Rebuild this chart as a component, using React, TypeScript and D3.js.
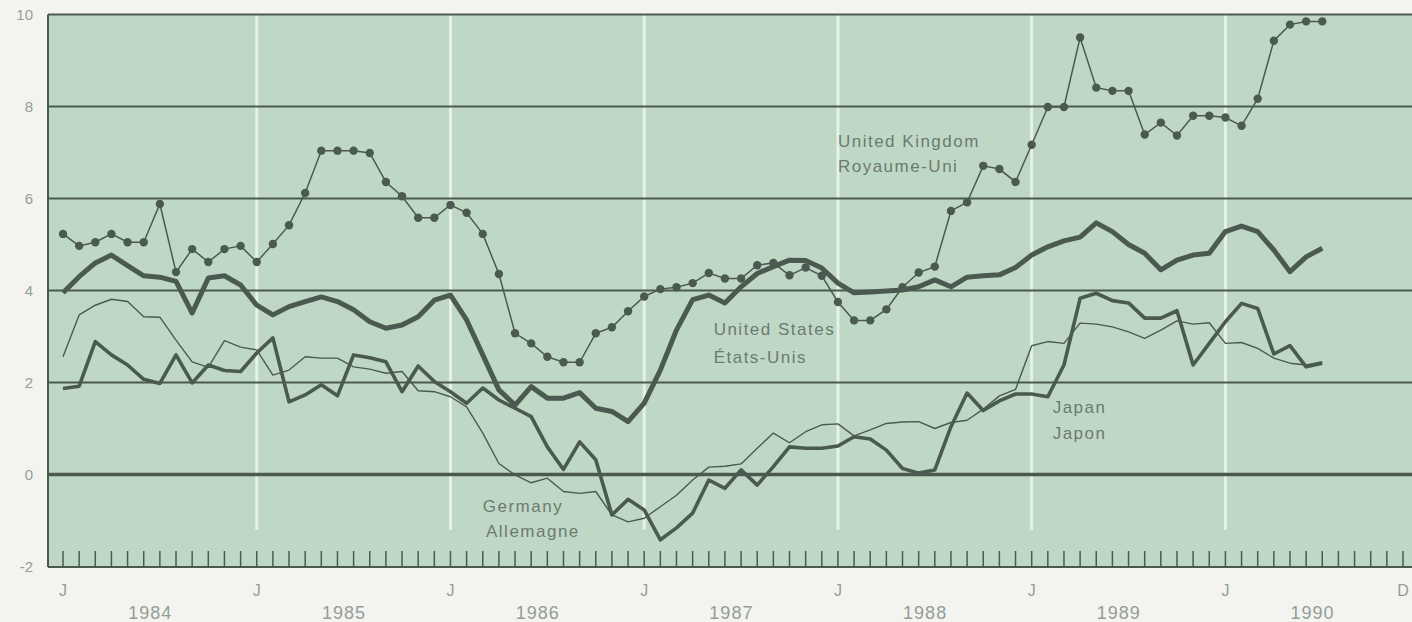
import { useEffect, useRef } from 'react';
import * as d3 from 'd3';

// Monthly values, January 1984 .. July 1990
const ukValues = [
  5.23, 4.97, 5.05, 5.23, 5.05, 5.05, 5.88, 4.4, 4.9, 4.62, 4.9, 4.97,
  4.62, 5.01, 5.42, 6.12, 7.04, 7.04, 7.04, 6.99, 6.36, 6.05, 5.58, 5.58,
  5.86, 5.69, 5.23, 4.36, 3.07, 2.85, 2.56, 2.44, 2.44, 3.07, 3.2, 3.55,
  3.87, 4.03, 4.07, 4.16, 4.38, 4.26, 4.26, 4.55, 4.6, 4.33, 4.5, 4.32,
  3.75, 3.35, 3.35, 3.59, 4.07, 4.39, 4.52, 5.73, 5.92, 6.71, 6.64, 6.36,
  7.17, 7.99, 7.99, 9.5, 8.41, 8.34, 8.34, 7.39, 7.65, 7.37, 7.8, 7.8,
  7.76, 7.58, 8.17, 9.43, 9.78, 9.85, 9.85,
];

const usValues = [
  3.95, 4.3, 4.6, 4.77, 4.54, 4.32, 4.29, 4.2, 3.51, 4.27, 4.32, 4.12,
  3.68, 3.47, 3.65, 3.76, 3.86, 3.76, 3.58, 3.32, 3.18, 3.25, 3.43, 3.79,
  3.9, 3.36, 2.6, 1.84, 1.51, 1.91, 1.66, 1.66, 1.78, 1.44, 1.37, 1.15,
  1.55, 2.27, 3.14, 3.8, 3.9, 3.73, 4.08, 4.37, 4.52, 4.66, 4.65, 4.49,
  4.16, 3.95, 3.97, 3.99, 4.01, 4.08, 4.23, 4.08, 4.29, 4.32, 4.34, 4.5,
  4.77, 4.95, 5.08, 5.16, 5.47, 5.28, 5.0, 4.81, 4.45, 4.66, 4.77, 4.81,
  5.28, 5.4, 5.28, 4.88, 4.41, 4.73, 4.92,
];

const japanValues = [
  1.87, 1.92, 2.89, 2.6, 2.38, 2.07, 1.98, 2.6, 1.99, 2.38, 2.26, 2.24,
  2.64, 2.97, 1.58, 1.73, 1.95, 1.71, 2.6, 2.54, 2.45, 1.8, 2.36, 2.02,
  1.8, 1.55, 1.88, 1.62, 1.44, 1.26, 0.6, 0.11, 0.71, 0.32, -0.88, -0.54,
  -0.77, -1.42, -1.16, -0.84, -0.12, -0.3, 0.1, -0.23, 0.17, 0.6, 0.57, 0.57,
  0.62, 0.82, 0.77, 0.53, 0.13, 0.03, 0.1, 1.04, 1.77, 1.39, 1.6, 1.75,
  1.75, 1.69, 2.38, 3.83, 3.94, 3.78, 3.73, 3.4, 3.4, 3.56, 2.38, 2.85,
  3.32, 3.72, 3.61, 2.62, 2.8, 2.34, 2.42,
];

const germanyValues = [
  2.56, 3.47, 3.68, 3.81, 3.76, 3.43, 3.42, 2.92, 2.45, 2.33, 2.91, 2.77,
  2.71, 2.16, 2.27, 2.56, 2.53, 2.53, 2.34, 2.29, 2.2, 2.24, 1.82, 1.8,
  1.69, 1.47, 0.9, 0.24, -0.01, -0.18, -0.08, -0.37, -0.41, -0.37, -0.88, -1.03,
  -0.95, -0.7, -0.45, -0.12, 0.16, 0.18, 0.23, 0.57, 0.9, 0.69, 0.93, 1.08,
  1.1, 0.84, 0.97, 1.11, 1.14, 1.15, 1.0, 1.13, 1.18, 1.42, 1.71, 1.85,
  2.8, 2.89, 2.85, 3.29, 3.27, 3.21, 3.1, 2.96, 3.14, 3.34, 3.27, 3.3,
  2.85, 2.87, 2.74, 2.53, 2.42, 2.38, 2.45,
];

const years = ['1984', '1985', '1986', '1987', '1988', '1989', '1990'];
const yTicks = [-2, 0, 2, 4, 6, 8, 10];
const gridValues = [2, 4, 6, 8];
const MONTHS = 84;

const INK = '#4b5a51';
const AXIS_TEXT = '#939d97';
const LABEL_TEXT = '#6c7a72';
const FONT = '"Liberation Sans", Arial, sans-serif';

export default function App() {
  const svgRef = useRef<SVGSVGElement>(null);

  useEffect(() => {
    if (!svgRef.current) return;
    const width = 1412;
    const height = 622;
    const left = 48;
    const top = 14.5;
    const bottom = 567;

    const svg = d3.select(svgRef.current);
    svg.selectAll('*').remove();
    svg.attr('width', width).attr('height', height);

    const x = d3.scaleLinear().domain([0, MONTHS - 1]).range([63, 1403]);
    const y = d3.scaleLinear().domain([-2, 10]).range([566.5, top]);

    // page + plot background
    svg.append('rect').attr('width', width).attr('height', height).attr('fill', '#f3f4f0');
    svg.append('rect')
      .attr('x', left).attr('y', top)
      .attr('width', width - left).attr('height', bottom - top)
      .attr('fill', '#bfd8c5');

    // white January lines
    svg.append('g')
      .selectAll('line')
      .data(d3.range(12, MONTHS, 12))
      .join('line')
      .attr('x1', d => x(d)).attr('x2', d => x(d))
      .attr('y1', top).attr('y2', 530)
      .attr('stroke', 'rgba(236,246,238,0.85)')
      .attr('stroke-width', 3);

    // horizontal grid
    svg.append('g')
      .selectAll('line')
      .data(gridValues)
      .join('line')
      .attr('x1', left).attr('x2', width)
      .attr('y1', d => y(d)).attr('y2', d => y(d))
      .attr('stroke', INK)
      .attr('stroke-width', 1.8);

    // zero line
    svg.append('line')
      .attr('x1', left).attr('x2', width)
      .attr('y1', y(0)).attr('y2', y(0))
      .attr('stroke', INK).attr('stroke-width', 3.5);

    // frame: top, left, bottom
    svg.append('line')
      .attr('x1', left).attr('x2', width).attr('y1', top).attr('y2', top)
      .attr('stroke', INK).attr('stroke-width', 2);
    svg.append('line')
      .attr('x1', left).attr('x2', left).attr('y1', top).attr('y2', bottom)
      .attr('stroke', INK).attr('stroke-width', 2);
    svg.append('line')
      .attr('x1', left).attr('x2', width).attr('y1', bottom).attr('y2', bottom)
      .attr('stroke', INK).attr('stroke-width', 2);

    // monthly ticks
    svg.append('g')
      .selectAll('line')
      .data(d3.range(0, MONTHS))
      .join('line')
      .attr('x1', d => x(d)).attr('x2', d => x(d))
      .attr('y1', bottom - 16).attr('y2', bottom)
      .attr('stroke', INK)
      .attr('stroke-width', 1.5);

    const line = d3.line<number>()
      .x((_, i) => x(i))
      .y(d => y(d));

    // Germany (thin)
    svg.append('path').datum(germanyValues)
      .attr('fill', 'none').attr('stroke', INK).attr('stroke-width', 1.4)
      .attr('stroke-linejoin', 'round').attr('d', line);

    // Japan (medium)
    svg.append('path').datum(japanValues)
      .attr('fill', 'none').attr('stroke', INK).attr('stroke-width', 3.6)
      .attr('stroke-linejoin', 'round').attr('d', line);

    // United States (thick)
    svg.append('path').datum(usValues)
      .attr('fill', 'none').attr('stroke', INK).attr('stroke-width', 5)
      .attr('stroke-linejoin', 'round').attr('d', line);

    // United Kingdom (dots)
    svg.append('path').datum(ukValues)
      .attr('fill', 'none').attr('stroke', INK).attr('stroke-width', 1.5)
      .attr('d', line);
    svg.append('g')
      .selectAll('circle')
      .data(ukValues)
      .join('circle')
      .attr('cx', (_, i) => x(i))
      .attr('cy', d => y(d))
      .attr('r', 4.2)
      .attr('fill', INK);

    // series labels, anchored in data space
    const labels: [string, number, number][] = [
      ['United Kingdom', 48, 7.12],
      ['Royaume-Uni', 48, 6.58],
      ['United States', 40.3, 3.03],
      ['États-Unis', 40.3, 2.42],
      ['Japan', 61.3, 1.34],
      ['Japon', 61.3, 0.77],
      ['Germany', 26, -0.82],
      ['Allemagne', 26.2, -1.36],
    ];
    svg.append('g')
      .selectAll('text')
      .data(labels)
      .join('text')
      .attr('x', d => x(d[1]))
      .attr('y', d => y(d[2]))
      .attr('font-family', FONT)
      .attr('font-size', '17px')
      .attr('letter-spacing', '1.5px')
      .attr('fill', LABEL_TEXT)
      .text(d => d[0]);

    // y-axis labels
    svg.append('g')
      .selectAll('text')
      .data(yTicks)
      .join('text')
      .attr('x', 33)
      .attr('y', d => y(d) + 5)
      .attr('text-anchor', 'end')
      .attr('font-family', FONT)
      .attr('font-size', '15px')
      .attr('fill', AXIS_TEXT)
      .text(d => String(d));

    // month markers: J for each January, D for the last December
    const monthMarks: [string, number][] = [
      ...years.map((_, i) => ['J', i * 12] as [string, number]),
      ['D', MONTHS - 1],
    ];
    svg.append('g')
      .selectAll('text')
      .data(monthMarks)
      .join('text')
      .attr('x', d => x(d[1]))
      .attr('y', 596)
      .attr('text-anchor', 'middle')
      .attr('font-family', FONT)
      .attr('font-size', '16px')
      .attr('fill', AXIS_TEXT)
      .text(d => d[0]);

    // year labels
    svg.append('g')
      .selectAll('text')
      .data(years)
      .join('text')
      .attr('x', (_, i) => x(i * 12 + 5.4))
      .attr('y', 619)
      .attr('text-anchor', 'middle')
      .attr('font-family', FONT)
      .attr('font-size', '18px')
      .attr('letter-spacing', '1px')
      .attr('fill', AXIS_TEXT)
      .text(d => d);
  }, []);

  return (
    <div style={{ position: 'absolute', left: 0, top: 0 }}>
      <svg ref={svgRef} width={1412} height={622} style={{ display: 'block' }} />
    </div>
  );
}
